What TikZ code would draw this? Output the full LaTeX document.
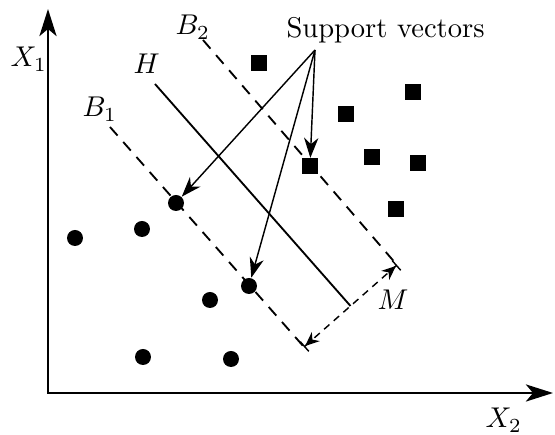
\documentclass[tikz,border=0pt]{standalone}
\usetikzlibrary{arrows.meta}
\begin{document}
\begin{tikzpicture}[x=0.35pt,y=-0.35pt,
  dot/.style={circle,fill,inner sep=0pt,minimum size=5.6pt},
  sq/.style={rectangle,fill,inner sep=0pt,minimum size=5.3pt},
  lbl/.style={inner sep=0pt,anchor=base west},
  axis/.style={line width=0.8pt,{Stealth[length=9.5pt,width=6pt,inset=2.5pt]}-{Stealth[length=9.5pt,width=6pt,inset=2.5pt]}},
  bline/.style={line width=0.65pt,dash pattern=on 4pt off 3pt},
  hline/.style={line width=0.65pt},
  svarrow/.style={line width=0.5pt,-{Stealth[length=7pt,width=5pt,inset=2.2pt]}},
  marr/.style={line width=0.5pt,dash pattern=on 2.5pt off 2pt,{Bar[width=4.5pt]Stealth[length=5pt,width=4.2pt,inset=1.6pt]}-{Stealth[length=5pt,width=4.2pt,inset=1.6pt]Bar[width=4.5pt]}}
]
\useasboundingbox (0,0) rectangle (555,435);
% axes
\coordinate (O) at (48,393);
\coordinate (ytip) at (48,9);
\coordinate (xtip) at (553,393);
\draw[axis] (ytip) -- (O) -- (xtip);
\node[lbl] (x1) at (10,67) {$X_1$};
\node[lbl] (x2) at (485,428) {$X_2$};
% lines
\coordinate (b1s) at (110,127);
\coordinate (b1e) at (304,347);
\coordinate (b2s) at (203,40);
\coordinate (b2e) at (397,265);
\coordinate (hs) at (155,84);
\coordinate (he) at (350.5,306);
\draw[bline] (b1s) -- (b1e);
\draw[bline] (b2s) -- (b2e);
\draw[hline] (hs) -- (he);
\draw[marr] (b1e) -- (b2e);
\node[lbl] (lb1) at (82,117) {$B_1$};
\node[lbl] (lb2) at (175,35) {$B_2$};
\node[lbl] (lh) at (133,74) {$H$};
\node[lbl] (lm) at (377,310) {$M$};
% circles
\node[dot] (c1) at (75,238) {};
\node[dot] (c2) at (142,229) {};
\node[dot] (c3) at (176,203) {};
\node[dot] (c4) at (210,300) {};
\node[dot] (c5) at (249,286) {};
\node[dot] (c6) at (143,357) {};
\node[dot] (c7) at (231,359) {};
% squares
\node[sq] (s1) at (259,63) {};
\node[sq] (s2) at (413,92) {};
\node[sq] (s3) at (346,114) {};
\node[sq] (s4) at (372,157) {};
\node[sq] (s5) at (418,163) {};
\node[sq] (s6) at (310,166) {};
\node[sq] (s7) at (396,209) {};
% support vectors
\node[lbl] (sv) at (286,38) {Support vectors};
\coordinate (svp) at (315,50);
\draw[svarrow] (svp) -- (c3);
\draw[svarrow] (svp) -- (c5);
\draw[svarrow] (svp) -- (s6);
\end{tikzpicture}
\end{document}
